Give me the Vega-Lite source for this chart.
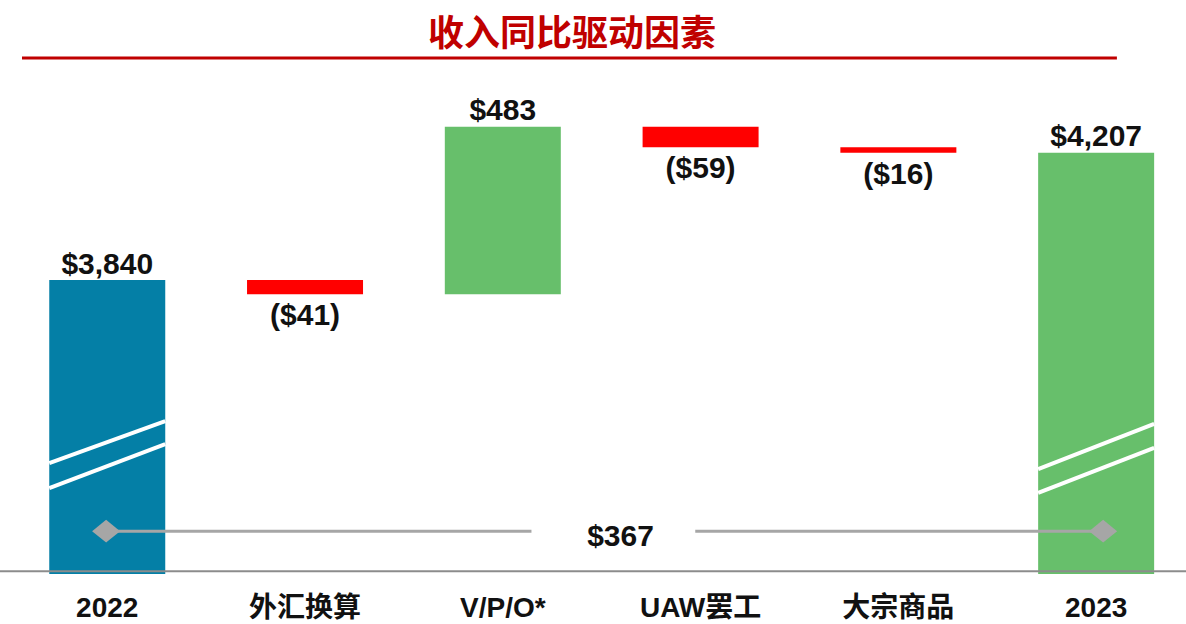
{
  "$schema": "https://vega.github.io/schema/vega-lite/v6.json",
  "width": 1186,
  "height": 524,
  "autosize": {"type": "none"},
  "padding": {"top": 50, "left": 0, "right": 0, "bottom": 50},
  "background": "white",
  "view": {"stroke": null},
  "title": {
    "text": "收入同比驱动因素",
    "font": "Noto Sans CJK SC",
    "fontSize": 36,
    "fontWeight": "bold",
    "color": "#C00000",
    "anchor": "middle",
    "dx": -21,
    "offset": -32,
    "baseline": "alphabetic"
  },
  "datasets": {
    "bars": [
      {"item": "2022", "from": 0, "to": 3840, "kind": "start", "label": "$3,840"},
      {"item": "外汇换算", "from": 3840, "to": 3799, "kind": "decrease", "label": "($41)"},
      {"item": "V/P/O*", "from": 3799, "to": 4282, "kind": "increase", "label": "$483"},
      {"item": "UAW罢工", "from": 4282, "to": 4223, "kind": "decrease", "label": "($59)"},
      {"item": "大宗商品", "from": 4223, "to": 4207, "kind": "decrease", "label": "($16)"},
      {"item": "2023", "from": 0, "to": 4207, "kind": "end", "label": "$4,207"}
    ],
    "breaks": [
      {"item": "2022", "low": 3312, "high": 3433},
      {"item": "2022", "low": 3240, "high": 3367},
      {"item": "2023", "low": 3295, "high": 3425},
      {"item": "2023", "low": 3226, "high": 3356}
    ]
  },
  "layer": [
    {
      "data": {"name": "bars"},
      "mark": {"type": "bar"},
      "encoding": {
        "x": {
          "field": "item",
          "type": "nominal",
          "scale": {
            "domain": ["2022", "外汇换算", "V/P/O*", "UAW罢工", "大宗商品", "2023"],
            "range": [9.7, 1193.7],
            "paddingInner": 0.4135,
            "paddingOuter": 0.2
          },
          "axis": {
            "title": null,
            "domain": false,
            "ticks": false,
            "tickSize": 0,
            "grid": false,
            "labelAngle": 0,
            "labelPadding": 20,
            "labelFont": "Liberation Sans, Noto Sans CJK SC, sans-serif",
            "labelFontSize": 28,
            "labelFontWeight": "bold",
            "labelColor": "#111111"
          }
        },
        "y": {
          "field": "from",
          "type": "quantitative",
          "scale": {"domain": [2992.4, 4503.1], "clamp": true, "zero": false, "nice": false},
          "axis": null
        },
        "y2": {"field": "to"},
        "color": {
          "field": "kind",
          "type": "nominal",
          "scale": {
            "domain": ["start", "increase", "decrease", "end"],
            "range": ["#047FA6", "#67BF6B", "#FF0000", "#67BF6B"]
          },
          "legend": null
        }
      }
    },
    {
      "data": {"name": "breaks"},
      "mark": {"type": "rule", "color": "white", "strokeWidth": 4},
      "encoding": {
        "x": {"field": "item", "type": "nominal", "bandPosition": 0},
        "x2": {"field": "item", "bandPosition": 1},
        "y": {"field": "low", "type": "quantitative"},
        "y2": {"field": "high"}
      }
    },
    {
      "data": {"values": [{"level": 3000}]},
      "mark": {"type": "rule", "color": "#8C8C8C", "strokeWidth": 2},
      "encoding": {
        "y": {"field": "level", "type": "quantitative"}
      }
    },
    {
      "data": {"values": [{"from": "2022", "to": "V/P/O*", "level": 3116}]},
      "mark": {"type": "rule", "color": "#A6A6A6", "strokeWidth": 3},
      "encoding": {
        "x": {"field": "from", "type": "nominal", "bandPosition": 0.49},
        "x2": {"field": "to", "bandPosition": 0.747},
        "y": {"field": "level", "type": "quantitative"}
      }
    },
    {
      "data": {"values": [{"from": "UAW罢工", "to": "2023", "level": 3116}]},
      "mark": {"type": "rule", "color": "#A6A6A6", "strokeWidth": 3},
      "encoding": {
        "x": {"field": "from", "type": "nominal", "bandPosition": 0.454},
        "x2": {"field": "to", "bandPosition": 0.56},
        "y": {"field": "level", "type": "quantitative"}
      }
    },
    {
      "data": {"values": [{"item": "2022", "level": 3116}]},
      "mark": {"type": "point", "shape": "M-1,0L0,-0.82L1,0L0,0.82Z", "size": 784, "filled": true, "color": "#A6A6A6", "opacity": 1},
      "encoding": {
        "x": {"field": "item", "type": "nominal", "bandPosition": 0.49},
        "y": {"field": "level", "type": "quantitative"}
      }
    },
    {
      "data": {"values": [{"item": "2023", "level": 3116}]},
      "mark": {"type": "point", "shape": "M-1,0L0,-0.82L1,0L0,0.82Z", "size": 784, "filled": true, "color": "#A6A6A6", "opacity": 1},
      "encoding": {
        "x": {"field": "item", "type": "nominal", "bandPosition": 0.56},
        "y": {"field": "level", "type": "quantitative"}
      }
    },
    {
      "data": {"values": [{"item": "UAW罢工", "level": 3116, "label": "$367"}]},
      "mark": {"type": "text", "font": "Liberation Sans", "fontSize": 30, "fontWeight": "bold", "color": "#111111", "baseline": "alphabetic", "dy": 15},
      "encoding": {
        "x": {"field": "item", "type": "nominal", "bandPosition": -0.19},
        "y": {"field": "level", "type": "quantitative"},
        "text": {"field": "label"}
      }
    },
    {
      "data": {"name": "bars"},
      "transform": [{"filter": "datum.kind != 'decrease'"}],
      "mark": {"type": "text", "font": "Liberation Sans", "fontSize": 30, "fontWeight": "bold", "color": "#111111", "baseline": "alphabetic", "dy": -6.5},
      "encoding": {
        "x": {"field": "item", "type": "nominal"},
        "y": {"field": "to", "type": "quantitative"},
        "text": {"field": "label"}
      }
    },
    {
      "data": {"name": "bars"},
      "transform": [{"filter": "datum.kind == 'decrease'"}],
      "mark": {"type": "text", "font": "Liberation Sans", "fontSize": 30, "fontWeight": "bold", "color": "#111111", "baseline": "alphabetic", "dy": 31},
      "encoding": {
        "x": {"field": "item", "type": "nominal"},
        "y": {"field": "to", "type": "quantitative"},
        "text": {"field": "label"}
      }
    },
    {
      "data": {"values": [{"from": "2022", "to": "2023", "level": 4480}]},
      "mark": {"type": "rule", "color": "#C00000", "strokeWidth": 3},
      "encoding": {
        "x": {"field": "from", "type": "nominal", "bandPosition": -0.235},
        "x2": {"field": "to", "bandPosition": 0.679},
        "y": {"field": "level", "type": "quantitative"}
      }
    }
  ]
}
